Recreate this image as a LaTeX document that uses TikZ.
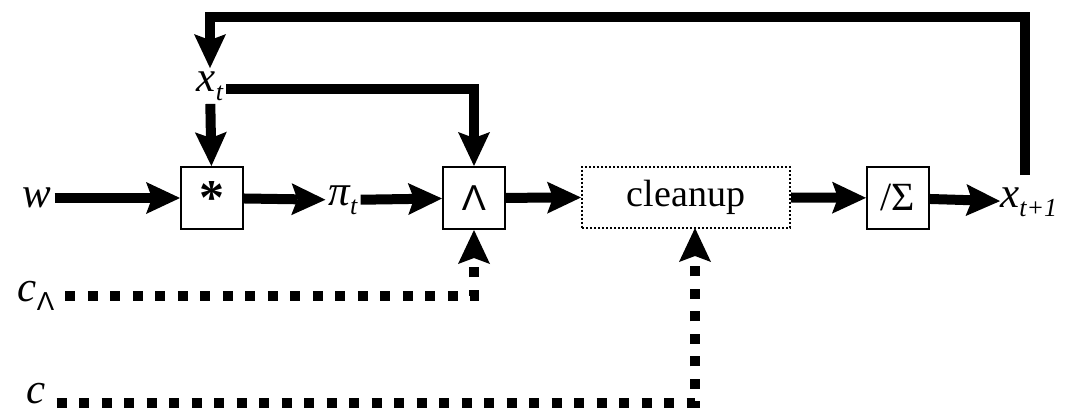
\documentclass[tikz,border=0pt]{standalone}
\usepackage{fontspec}
\setmainfont{Liberation Serif}
\newfontfamily\symsans{Liberation Sans}
\newfontfamily\labfont{Liberation Serif Italic}
\newcommand{\sbs}[1]{\raisebox{-0.22em}{\fontsize{26}{26}\selectfont #1}}
\usetikzlibrary{arrows.meta}
\begin{document}
\begin{tikzpicture}[x=1pt,y=-1pt,
  lbl/.style={font=\fontsize{43}{43}\selectfont\labfont, inner sep=3pt},
  opbox/.style={draw, line width=2pt, minimum width=62pt, minimum height=62pt, inner sep=0pt},
  arr/.style={line width=10pt, -{Stealth[length=34pt 0 0, width=32pt 0 0, inset=6pt 0 0, line width=0pt 0 0]}},
  dsh/.style={arr, dash pattern=on 10pt off 12.5pt}]
\useasboundingbox (0,0) rectangle (1072,415);
\node[lbl] (w) at (37,198) {w};
\node[opbox, font=\fontsize{50}{50}\selectfont\bfseries] (star) at (212,198) {\raisebox{-16pt}{*}};
\node[lbl] (pi) at (343,200) {π\sbs{t}};
\node[opbox, font=\fontsize{36}{36}\selectfont\symsans] (lam) at (474,198) {Λ};
\node[draw, dotted, line width=2pt, minimum width=208pt, minimum height=61pt, font=\fontsize{38}{38}\selectfont] (clean) at (686,197) {cleanup};
\node[opbox, font=\fontsize{40}{40}\selectfont] (norm) at (898,198) {/Σ};
\node[lbl, anchor=west, inner sep=0pt] (xt1) at (1000,202) {x\sbs{t+1}};
\node[lbl] (xt) at (210,86) {x\sbs{t}};
\node[lbl] (cl) at (36,296) {c\sbs{\symsans Λ}};
\node[lbl, inner sep=1pt] (c) at (36,394) {c};
\coordinate (fbr) at (1025,175);
\coordinate (topy) at (0,17);
\coordinate (cin) at (695,228);
\draw[arr] (w) -- (star);
\draw[arr] (star) -- (pi);
\draw[arr] (pi) -- (lam);
\draw[arr] (lam) -- (clean);
\draw[arr] (clean) -- (norm);
\draw[arr] (norm) -- (xt1);
\draw[arr] (xt) -- (star);
\draw[arr] ([yshift=-3pt]xt.east) -| (lam.north);
\draw[arr, line join=miter] (fbr) -- (fbr |- topy) -| (xt.north);
\draw[dsh] ([xshift=8pt]cl.east) -| (lam.south);
\draw[dsh] ([xshift=10pt,yshift=-9pt]c.east) -| (cin);
\end{tikzpicture}
\end{document}
